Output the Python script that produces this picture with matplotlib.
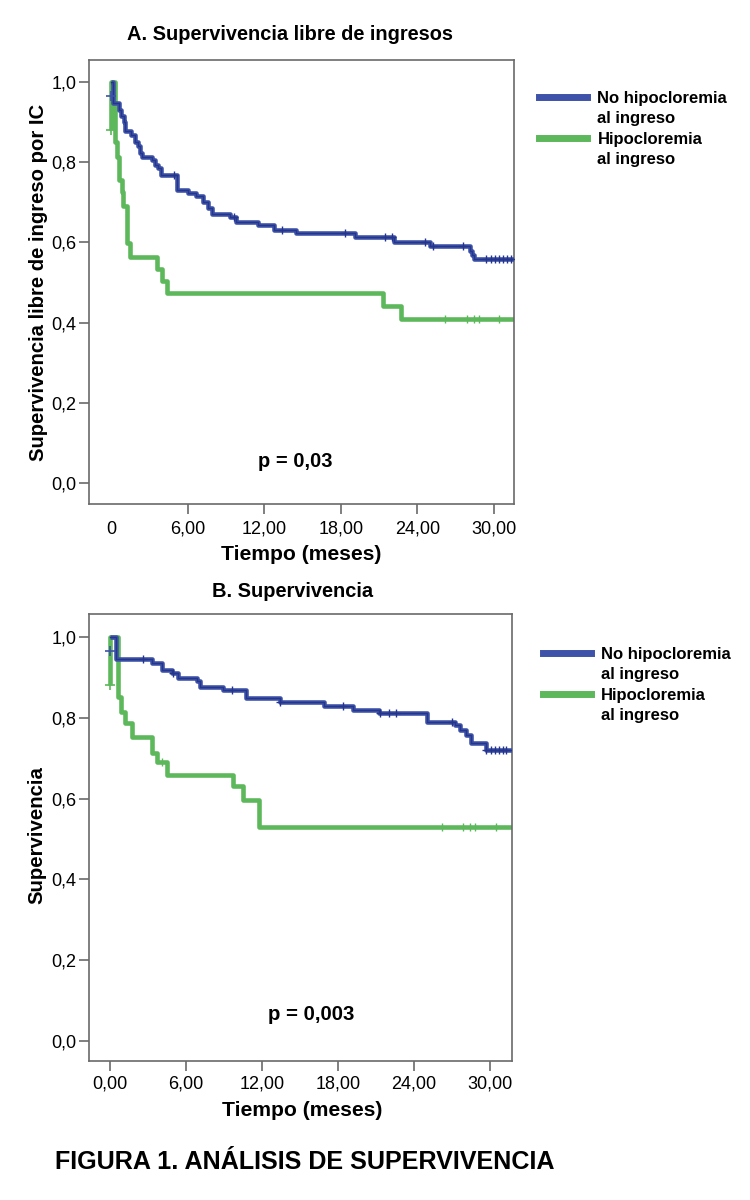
import numpy as np
import matplotlib.pyplot as plt
from matplotlib.lines import Line2D

plt.rcParams['font.family'] = ['Liberation Sans', 'DejaVu Sans']

# ---- Panel A: supervivencia libre de ingresos ----
a_no_t = [0, 0.18, 0.6, 0.8, 1.0, 1.1, 1.6, 1.9, 2.1, 2.3, 2.45, 3.2, 3.45, 3.7, 3.95, 5.15,
          6.05, 6.7, 7.2, 7.6, 7.9, 9.3, 9.8, 11.5, 12.8, 14.5, 19.1, 22.2, 25.0, 28.1, 28.25, 28.4]
a_no_s = [1.0, 0.947, 0.93, 0.915, 0.9, 0.878, 0.868, 0.851, 0.84, 0.822, 0.814, 0.806, 0.793,
          0.785, 0.768, 0.731, 0.723, 0.715, 0.70, 0.685, 0.67, 0.664, 0.652, 0.643, 0.631, 0.624,
          0.613, 0.602, 0.591, 0.58, 0.57, 0.558]
a_no_cens = [4.9, 9.6, 13.4, 18.3, 21.5, 22.0, 24.6, 25.2, 27.6, 29.4, 29.8, 30.1, 30.4, 30.7, 31.0, 31.3]

a_hipo_t = [0, 0, 0.35, 0.45, 0.63, 0.84, 0.97, 1.23, 1.49, 3.6, 3.97, 4.36, 21.3, 22.7]
a_hipo_s = [0.88, 1.0, 0.85, 0.814, 0.755, 0.725, 0.69, 0.598, 0.565, 0.535, 0.505, 0.473, 0.441, 0.41]
a_hipo_cens = [26.2, 27.9, 28.4, 28.8, 30.4]

# ---- Panel B: supervivencia ----
b_no_t = [0, 0.5, 3.3, 4.1, 4.9, 5.4, 6.85, 7.1, 8.95, 10.7, 13.4, 16.9, 19.2, 21.2, 25.0,
          27.2, 27.6, 28.1, 28.5, 29.7]
b_no_s = [1.0, 0.945, 0.935, 0.918, 0.91, 0.898, 0.89, 0.877, 0.869, 0.848, 0.838, 0.829, 0.819,
          0.811, 0.789, 0.782, 0.77, 0.758, 0.737, 0.72]
b_no_cens = [2.6, 4.95, 9.6, 13.4, 18.4, 21.3, 22.0, 22.6, 27.0, 29.7, 30.1, 30.4, 30.7, 31.0, 31.3]

b_hipo_t = [0, 0, 0.66, 0.87, 1.18, 1.71, 3.29, 3.68, 4.47, 9.73, 10.5, 11.8]
b_hipo_s = [0.88, 1.0, 0.852, 0.814, 0.786, 0.753, 0.712, 0.691, 0.659, 0.63, 0.597, 0.53]
b_hipo_cens = [4.08, 26.2, 27.9, 28.4, 28.8, 30.5]

# marks drawn at time 0 by the original software
start_marks_s = [0.965, 0.88]

x_ticks = [0, 6, 12, 18, 24, 30]
y_ticks = [0.0, 0.2, 0.4, 0.6, 0.8, 1.0]
y_ticklabels = ['0,0', '0,2', '0,4', '0,6', '0,8', '1,0']
labels = ['No hipocloremia', 'al ingreso', 'Hipocloremia', 'al ingreso']

BLUE = '#3d52a8'
BLUE_DARK = '#26358c'
GREEN = '#5cb85a'
SPINE = '#6a6a6a'


def surv_at(times, surv, t):
    idx = np.searchsorted(np.array(times), np.array(t), side='right') - 1
    return np.array(surv)[idx]


def km_panel(ax, no_t, no_s, no_c, hi_t, hi_s, hi_c, xlim, ylim, xpad):
    t_end = xlim[1]
    nt = list(no_t) + [t_end]
    ns = list(no_s) + [no_s[-1]]
    ht = list(hi_t) + [t_end]
    hs = list(hi_s) + [hi_s[-1]]

    ax.plot(ht, hs, drawstyle='steps-post', color=GREEN, lw=3.3, solid_capstyle='butt', zorder=2)
    ax.plot(nt, ns, drawstyle='steps-post', color=BLUE, lw=3.3, solid_capstyle='butt', zorder=3)
    ax.plot(nt, ns, drawstyle='steps-post', color=BLUE_DARK, lw=1.0, zorder=3)

    ax.plot(no_c, surv_at(no_t, no_s, no_c), ls='none', marker='+', ms=6, mew=1.0,
            color=BLUE_DARK, zorder=4)
    ax.plot(hi_c, surv_at(hi_t, hi_s, hi_c), ls='none', marker='+', ms=6, mew=1.0,
            color=GREEN, zorder=4)
    ax.plot([0], [start_marks_s[0]], ls='none', marker='+', ms=7, mew=1.2, color=BLUE, zorder=4)
    ax.plot([0], [start_marks_s[1]], ls='none', marker='+', ms=7, mew=1.2, color=GREEN, zorder=4)

    ax.set_xlim(*xlim)
    ax.set_ylim(*ylim)
    ax.set_yticks(y_ticks)
    ax.set_yticklabels(y_ticklabels)
    ax.set_xticks(x_ticks)
    for sp in ax.spines.values():
        sp.set_color(SPINE)
        sp.set_linewidth(1.2)
    ax.tick_params(direction='out', length=7, width=1.2, color=SPINE, labelsize=13)
    ax.tick_params(axis='y', pad=2)
    ax.tick_params(axis='x', pad=xpad)


def add_legend(ax, anchor):
    blue_h = Line2D([], [], color=BLUE, lw=5)
    green_h = Line2D([], [], color=GREEN, lw=5)
    blank = Line2D([], [], color='none')
    leg = ax.legend([blue_h, blank, green_h, blank], labels, loc='upper left',
                    bbox_to_anchor=anchor, frameon=False, handlelength=2.9,
                    handletextpad=0.6, labelspacing=0.33, borderpad=0, borderaxespad=0,
                    prop={'weight': 'bold', 'size': 12})
    return leg


fig = plt.figure(figsize=(7.5, 12), dpi=100)

# panel A
axA = fig.add_axes([89 / 750, 1 - 504 / 1200, 425 / 750, 444 / 1200])
km_panel(axA, a_no_t, a_no_s, a_no_cens, a_hipo_t, a_hipo_s, a_hipo_cens,
         (-1.72, 31.57), (-0.052, 1.055), 5)
axA.set_xticklabels(['0', '6,00', '12,00', '18,00', '24,00', '30,00'])
axA.xaxis.get_major_ticks()[0].tick1line.set_visible(False)
axA.text(0.473, 1.058, 'A. Supervivencia libre de ingresos', transform=axA.transAxes,
         ha='center', va='center', fontsize=14.4, fontweight='bold')
axA.set_xlabel('Tiempo (meses)', fontsize=15.2, fontweight='bold')
axA.xaxis.set_label_coords(0.50, -0.092)
axA.set_ylabel('Supervivencia libre de ingreso por IC', fontsize=14.6, fontweight='bold')
axA.yaxis.set_label_coords(-0.097, 0.5)
axA.text(14.4, 0.055, 'p = 0,03', ha='center', va='center', fontsize=14.5, fontweight='bold')
add_legend(axA, (1.059, 0.931))

# panel B
axB = fig.add_axes([89 / 750, 1 - 1061 / 1200, 423 / 750, 447 / 1200])
km_panel(axB, b_no_t, b_no_s, b_no_cens, b_hipo_t, b_hipo_s, b_hipo_cens,
         (-1.66, 31.74), (-0.05, 1.057), 3.5)
axB.set_xticklabels(['0,00', '6,00', '12,00', '18,00', '24,00', '30,00'])
axB.text(0.482, 1.051, 'B. Supervivencia', transform=axB.transAxes,
         ha='center', va='center', fontsize=14.4, fontweight='bold')
axB.set_xlabel('Tiempo (meses)', fontsize=15.2, fontweight='bold')
axB.xaxis.set_label_coords(0.503, -0.09)
axB.set_ylabel('Supervivencia', fontsize=14.7, fontweight='bold')
axB.yaxis.set_label_coords(-0.1, 0.505)
axB.text(15.9, 0.064, 'p = 0,003', ha='center', va='center', fontsize=14.7, fontweight='bold')
add_legend(axB, (1.073, 0.927))

fig.text(55 / 750, 1 - 1162 / 1200, 'FIGURA 1. ANÁLISIS DE SUPERVIVENCIA', ha='left',
         va='center', fontsize=18.1, fontweight='bold')

fig.savefig('out.png', dpi=100)
